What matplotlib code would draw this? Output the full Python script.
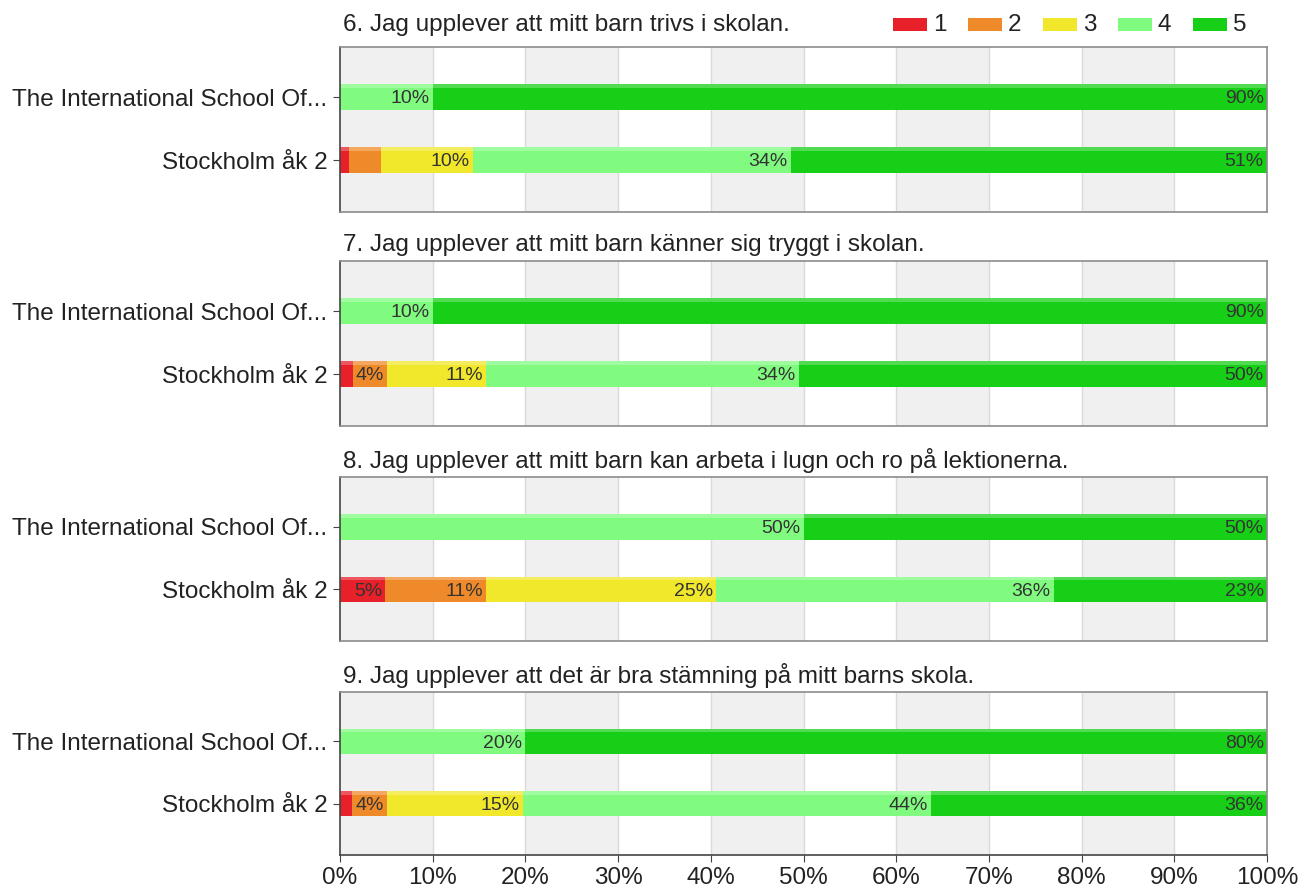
import matplotlib
matplotlib.use("Agg")
import matplotlib.pyplot as plt
from matplotlib.patches import Rectangle
import numpy as np

plt.rcParams['font.family'] = ['Liberation Sans', 'DejaVu Sans']

titles = [
    "6. Jag upplever att mitt barn trivs i skolan.",
    "7. Jag upplever att mitt barn känner sig tryggt i skolan.",
    "8. Jag upplever att mitt barn kan arbeta i lugn och ro på lektionerna.",
    "9. Jag upplever att det är bra stämning på mitt barns skola.",
]
categories = ["The International School Of...", "Stockholm åk 2"]
levels = ["1", "2", "3", "4", "5"]
colors = ["#e8202a", "#ef8a2a", "#f1e82c", "#80fb80", "#17cf17"]

# values[question][category] = shares (%) for levels 1..5
q6_intl = [0, 0, 0, 10, 90]
q6_sthlm = [1.0, 3.4, 9.9, 34.3, 51.4]
q7_intl = [0, 0, 0, 10, 90]
q7_sthlm = [1.4, 3.7, 10.7, 33.7, 50.5]
q8_intl = [0, 0, 0, 50, 50]
q8_sthlm = [4.9, 10.9, 24.8, 36.4, 23.0]
q9_intl = [0, 0, 0, 20, 80]
q9_sthlm = [1.3, 3.8, 14.6, 44.1, 36.2]
data = [(q6_intl, q6_sthlm), (q7_intl, q7_sthlm), (q8_intl, q8_sthlm), (q9_intl, q9_sthlm)]

W, H = 1300, 890
fig = plt.figure(figsize=(13, 8.9), dpi=100)

# panel pixel boxes (top, bottom)
boxes = [(47, 212), (261, 426), (477, 641), (692, 855)]
title_y = [25, 245, 460, 675]
left, right = 340, 1267
FS = 17.5

for i, ((top, bot), title, vals) in enumerate(zip(boxes, titles, data)):
    ax = fig.add_axes([left / W, 1 - bot / H, (right - left) / W, (bot - top) / H])
    # alternating bands
    for k in range(0, 100, 20):
        ax.axvspan(k, k + 10, color="#f0f0f0", zorder=0, lw=0)
    for k in range(10, 100, 10):
        ax.axvline(k, color="#dadada", lw=1, zorder=0.5)
    for ci, row in enumerate(vals):
        start = 0
        for li, v in enumerate(row):
            if v > 0:
                ax.barh(ci, v, left=start, height=0.41, color=colors[li], lw=0, zorder=2)
                # subtle highlight on top
                ax.barh(ci - 0.41 / 2 + 0.03, v, left=start, height=0.06, color="white",
                        alpha=0.25, lw=0, zorder=2.5)
                if v >= 3.6:
                    ax.text(start + v - 0.35, ci + 0.03, f"{round(v):d}%", ha="right", va="center",
                            fontsize=14, color="#333333", zorder=3)
            start += v
    ax.set_xlim(0, 100)
    ax.set_ylim(1.825, -0.794)
    ax.set_yticks([0, 1])
    ax.set_yticklabels(categories, fontsize=FS, color="#222222")
    ax.tick_params(axis="y", length=5, color="#444444", pad=4)
    ax.set_xticks(np.arange(0, 101, 10))
    if i == 3:
        ax.set_xticklabels([f"{t}%" for t in range(0, 101, 10)], fontsize=FS, color="#222222")
        ax.tick_params(axis="x", length=5, color="#444444", pad=4)
    else:
        ax.tick_params(axis="x", length=0, labelbottom=False)
    for s in ["top", "right"]:
        ax.spines[s].set_color("#8c8c8c")
    ax.spines["left"].set_color("#444444")
    ax.spines["bottom"].set_color("#444444" if i == 3 else "#8c8c8c")
    for s in ax.spines.values():
        s.set_linewidth(1.2)
    fig.text(343 / W, 1 - title_y[i] / H, title, ha="left", va="center", fontsize=FS, color="#222222")

# legend
leg_x = [893, 968, 1043, 1118, 1193]
for lx, lab, col in zip(leg_x, levels, colors):
    fig.patches.append(Rectangle((lx / W, 1 - 31 / H), 34 / W, 13 / H, transform=fig.transFigure,
                                 facecolor=col, edgecolor="none"))
    fig.text((lx + 40) / W, 1 - 25 / H, lab, ha="left", va="center", fontsize=FS, color="#222222")

fig.savefig("out.png", dpi=100)
